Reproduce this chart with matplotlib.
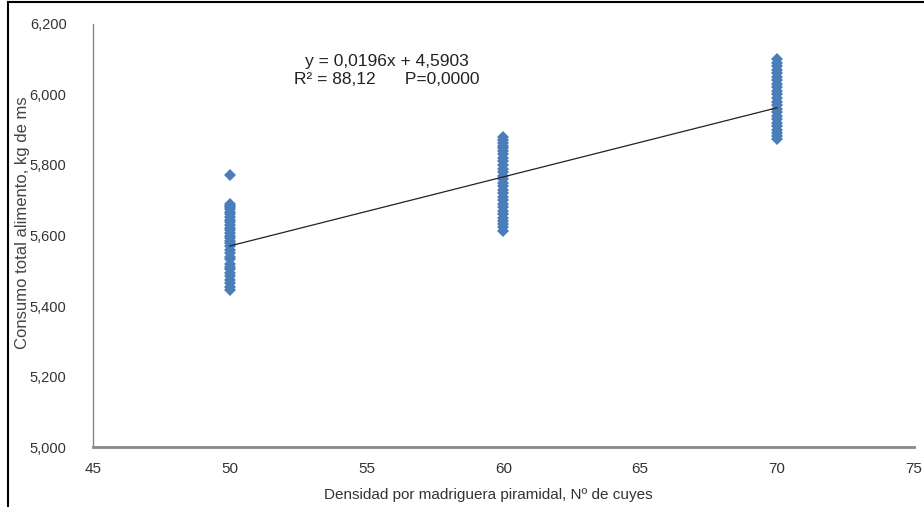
import matplotlib
matplotlib.use("Agg")
import matplotlib.pyplot as plt
from matplotlib.lines import Line2D
from matplotlib.ticker import FuncFormatter

plt.rcParams["font.family"] = ["Liberation Sans", "DejaVu Sans"]

# densidad (N° de cuyes) y consumo total (kg de ms)
dens_50 = [5772, 5690, 5685, 5680, 5675, 5668, 5660, 5652, 5645, 5638, 5630,
           5622, 5615, 5608, 5600, 5592, 5585, 5578, 5570, 5560, 5550, 5540,
           5532, 5520, 5512, 5505, 5495, 5485, 5475, 5465, 5455, 5445]
dens_60 = [5880, 5870, 5862, 5855, 5848, 5840, 5830, 5820, 5810, 5800, 5790,
           5780, 5770, 5760, 5750, 5740, 5730, 5720, 5710, 5700, 5690, 5680,
           5670, 5660, 5650, 5640, 5632, 5625, 5612]
dens_70 = [6100, 6090, 6080, 6070, 6060, 6050, 6040, 6030, 6020, 6010, 6000,
           5990, 5980, 5970, 5960, 5950, 5940, 5930, 5920, 5910, 5900, 5890,
           5882, 5875]
groups = {50: dens_50, 60: dens_60, 70: dens_70}

slope = 0.0196
intercept = 4.5903
fit_x = [50, 70]

fig = plt.figure(figsize=(9.24, 5.07), dpi=100)
ax = fig.add_axes([0.1006, 0.1183, 0.8884, 0.8344])

xs, ys = [], []
for d, vals in groups.items():
    xs += [d] * len(vals)
    ys += vals
ax.plot(xs, ys, "D", color="#4a7ebb", markersize=6.5, markeredgewidth=0, zorder=2)

ax.plot(fit_x, [(slope * x + intercept) * 1000 for x in fit_x], "-",
        color="#222222", lw=0.9, zorder=3)

ax.set_xlim(45, 75)
ax.set_ylim(5000, 6200)
ax.set_xticks(range(45, 76, 5))
ax.set_yticks(range(5000, 6201, 200))
ax.yaxis.set_major_formatter(FuncFormatter(lambda v, p: f"{int(v):,}"))
ax.tick_params(length=0, colors="#333333")
ax.tick_params(axis="y", pad=19, labelsize=10.5)
ax.tick_params(axis="x", pad=11, labelsize=11)

for s in ["top", "right"]:
    ax.spines[s].set_visible(False)
ax.spines["left"].set_color("#888888")
ax.spines["left"].set_linewidth(1.0)
ax.spines["bottom"].set_color("#888888")
ax.spines["bottom"].set_linewidth(2.0)

ax.set_xlabel("Densidad por madriguera piramidal, N\u00ba de cuyes",
              fontsize=11, color="#333333")
ax.xaxis.set_label_coords(0.482, -0.097)
ax.set_ylabel("Consumo total alimento, kg de ms", fontsize=12,
              color="#444444")
ax.yaxis.set_label_coords(-0.0765, 0.53)

ax.text(0.358, 0.912, "y = 0,0196x + 4,5903", transform=ax.transAxes,
        ha="center", va="center", fontsize=12.5, color="#222222")
ax.text(0.358, 0.868, "R\u00b2 = 88,12      P=0,0000", transform=ax.transAxes,
        ha="center", va="center", fontsize=12.5, color="#222222")

# marco negro (izquierda y arriba)
fig.add_artist(Line2D([0.009, 0.009], [0, 0.996], transform=fig.transFigure,
                      color="black", lw=1.5))
fig.add_artist(Line2D([0.009, 1], [0.996, 0.996], transform=fig.transFigure,
                      color="black", lw=1.5))

fig.savefig("out.png", dpi=100, facecolor="white")
